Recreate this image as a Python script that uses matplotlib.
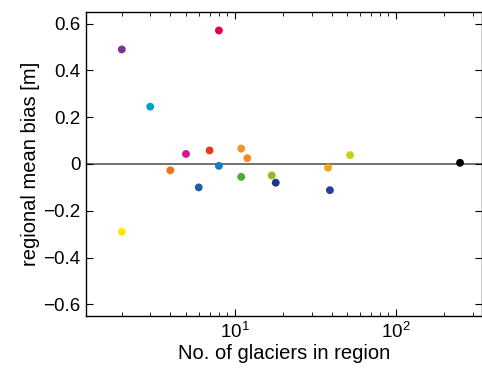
import numpy as np
import matplotlib.pyplot as plt

plt.rcParams['font.family'] = ['Liberation Sans', 'DejaVu Sans']
plt.rcParams['mathtext.fontset'] = 'custom'
plt.rcParams['mathtext.rm'] = 'Liberation Sans'
plt.rcParams['mathtext.it'] = 'Liberation Sans:italic'
plt.rcParams['mathtext.bf'] = 'Liberation Sans:bold'

# number of glaciers per region and the regional mean bias
n_glaciers = [2, 2, 3, 4, 5, 6, 7, 8, 8, 11, 12, 11, 17, 18, 38, 39, 52, 250]
bias = [0.49, -0.29, 0.245, -0.027, 0.043, -0.10, 0.058, 0.571, -0.008,
        0.066, 0.025, -0.055, -0.049, -0.08, -0.016, -0.112, 0.038, 0.005]
colors = ['#7b3290', '#ffe600', '#00a0cc', '#f07020', '#d4158c', '#1f5faa',
          '#e63c1e', '#e2004f', '#0a82c8', '#f7941d', '#f58a1f', '#4eab2f',
          '#8fbc1e', '#23338a', '#f9a21b', '#26409a', '#c4d21c', '#000000']

fig = plt.figure(figsize=(4.82, 3.8), dpi=100)
ax = fig.add_axes([86/482, 64/380, 396/482, 304/380])

ax.axhline(0, color='#666666', lw=1.3, zorder=1)
ax.scatter(n_glaciers, bias, s=32, c=colors, edgecolors='none', zorder=3)

ax.set_xscale('log')
ax.set_xlim(1.2, 342)
ax.set_ylim(-0.65, 0.65)
ax.set_yticks([-0.6, -0.4, -0.2, 0, 0.2, 0.4, 0.6])
ax.set_yticklabels(['\u22120.6', '\u22120.4', '\u22120.2', '0', '0.2', '0.4', '0.6'])
ax.tick_params(which='both', direction='in', top=True, right=True, labelsize=13.5)
ax.tick_params(which='major', length=5, pad=4)
ax.tick_params(which='minor', length=3)
for s in ax.spines.values():
    s.set_linewidth(1.0)

ax.set_xlabel('No. of glaciers in region', fontsize=14.5, labelpad=2)
ax.set_ylabel('regional mean bias [m]', fontsize=14.5, labelpad=2)

fig.savefig('out.png', dpi=100)
